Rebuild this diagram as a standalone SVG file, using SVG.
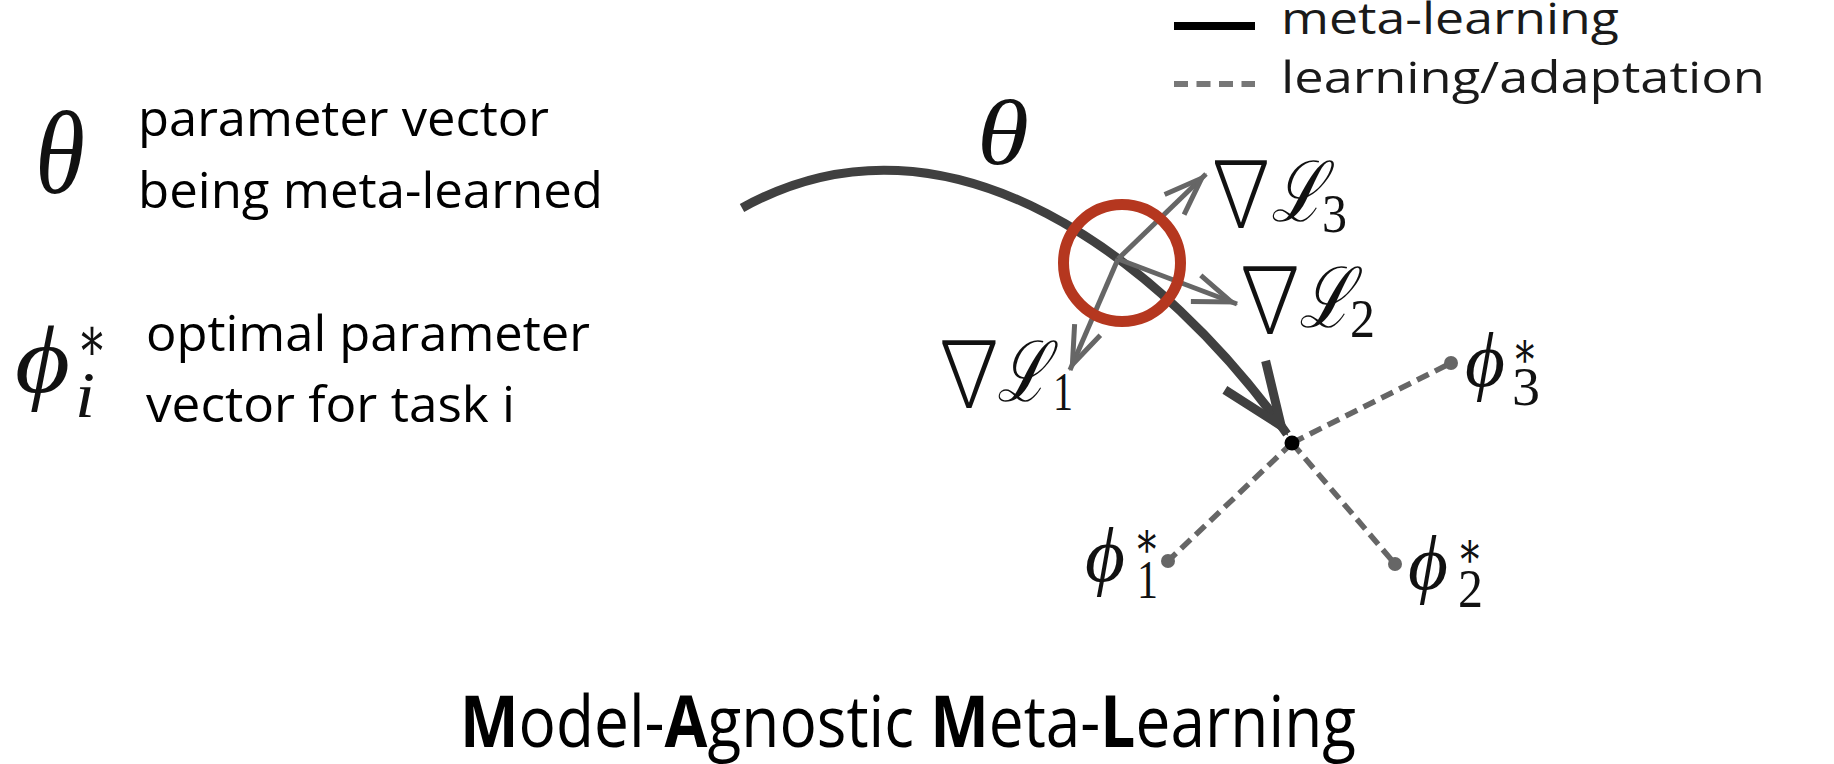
<svg xmlns="http://www.w3.org/2000/svg" width="1834" height="764" viewBox="0 0 1834 764">
  <style>
    .txt { font-family: "Open Sans", "Noto Sans", "Liberation Sans", sans-serif; fill: #000; }
    .def { font-size: 50px; }
    .leg { font-size: 44px; fill: #1a1a1a; }
    .ttl { font-size: 71px; }
    .b { font-weight: bold; }
    .math { font-family: "Liberation Serif", "DejaVu Serif", serif; fill: #111; }
    .nabla { font-family: "Noto Sans CJK JP", "DejaVu Sans", sans-serif; fill: #111; font-size: 92px; font-weight: 300; }
    .cal { font-family: "Liberation Serif", "DejaVu Serif", serif; fill: #111; font-style: italic; font-size: 84px; }
    .it { font-style: italic; }
    .meta { fill: none; stroke: #404040; stroke-width: 9; }
    .grad { fill: none; stroke: #666; stroke-width: 5; }
    .adapt { fill: none; stroke: #666; stroke-width: 5.5; stroke-dasharray: 13 7; }
  </style>
  <defs>
    <marker id="metaHead" markerUnits="userSpaceOnUse" viewBox="-80 -35 90 70" markerWidth="90" markerHeight="70" refX="0" refY="0" orient="auto">
      <path d="M -72,-25 L -10,0 L -72,25" fill="none" stroke="#404040" stroke-width="9"/>
    </marker>
    <marker id="gradHead" markerUnits="userSpaceOnUse" viewBox="-50 -20 60 40" markerWidth="60" markerHeight="40" refX="0" refY="0" orient="auto">
      <path d="M -44,-14 L -6,0 L -44,14" fill="none" stroke="#666" stroke-width="5"/>
    </marker>
  </defs>

  <rect width="1834" height="764" fill="#fff"/>

  <!-- Legend -->
  <g id="legend">
    <line x1="1174" y1="26" x2="1255" y2="26" stroke="#000" stroke-width="8"/>
    <text class="txt leg" x="1281" y="34" textLength="338" lengthAdjust="spacingAndGlyphs">meta-learning</text>
    <line x1="1174" y1="84" x2="1255" y2="84" stroke="#777" stroke-width="6" stroke-dasharray="14 8.5"/>
    <text class="txt leg" x="1281" y="93" textLength="484" lengthAdjust="spacingAndGlyphs">learning/adaptation</text>
  </g>

  <!-- Left definitions -->
  <g id="def-theta">
    <text class="math it" x="35" y="193" font-size="118" textLength="50" lengthAdjust="spacingAndGlyphs">θ</text>
    <text class="txt def" x="138" y="136" textLength="411" lengthAdjust="spacingAndGlyphs">parameter vector</text>
    <text class="txt def" x="138" y="208" textLength="465" lengthAdjust="spacingAndGlyphs">being meta-learned</text>
  </g>
  <g id="def-phi">
    <text class="math it" x="15" y="392" font-size="96" textLength="55" lengthAdjust="spacingAndGlyphs">ϕ</text>
    <text class="math" x="77" y="360" font-size="62" textLength="30" lengthAdjust="spacingAndGlyphs">∗</text>
    <text class="math it" x="75" y="417" font-size="66" textLength="20" lengthAdjust="spacingAndGlyphs">i</text>
    <text class="txt def" x="146" y="351" textLength="444" lengthAdjust="spacingAndGlyphs">optimal parameter</text>
    <text class="txt def" x="146" y="422" textLength="369" lengthAdjust="spacingAndGlyphs">vector for task i</text>
  </g>

  <!-- Connectors -->
  <g id="connectors">
    <path id="meta-path" class="meta" d="M 742,208 C 950,92 1166,264 1287,434" marker-end="url(#metaHead)"/>
    <line id="adapt-1" class="adapt" x1="1292" y1="443" x2="1168" y2="561"/>
    <line id="adapt-2" class="adapt" x1="1292" y1="443" x2="1395" y2="564"/>
    <line id="adapt-3" class="adapt" x1="1292" y1="443" x2="1451" y2="363"/>
    <line id="grad-1" class="grad" x1="1118" y1="259" x2="1070" y2="370" marker-end="url(#gradHead)"/>
    <line id="grad-2" class="grad" x1="1118" y1="259" x2="1237" y2="304" marker-end="url(#gradHead)"/>
    <line id="grad-3" class="grad" x1="1118" y1="259" x2="1206" y2="174" marker-end="url(#gradHead)"/>
  </g>

  <!-- Nodes -->
  <g id="node-theta-label">
    <text class="math it" x="977" y="164" font-size="94" textLength="52" lengthAdjust="spacingAndGlyphs">θ</text>
  </g>
  <g id="node-init">
    <circle cx="1122" cy="263" r="58.5" fill="none" stroke="#b5371f" stroke-width="11"/>
  </g>
  <g id="node-grad1-label">
    <text class="nabla" x="930" y="406" textLength="78" lengthAdjust="spacingAndGlyphs">∇</text>
    <text class="cal" x="997" y="401" textLength="52" lengthAdjust="spacingAndGlyphs">ℒ</text>
    <text class="math" x="1053" y="410" font-size="54" textLength="20" lengthAdjust="spacingAndGlyphs">1</text>
  </g>
  <g id="node-grad2-label">
    <text class="nabla" x="1231" y="332" textLength="78" lengthAdjust="spacingAndGlyphs">∇</text>
    <text class="cal" x="1299" y="327" textLength="54" lengthAdjust="spacingAndGlyphs">ℒ</text>
    <text class="math" x="1350" y="337" font-size="54" textLength="25" lengthAdjust="spacingAndGlyphs">2</text>
  </g>
  <g id="node-grad3-label">
    <text class="nabla" x="1203" y="226" textLength="76" lengthAdjust="spacingAndGlyphs">∇</text>
    <text class="cal" x="1271" y="221" textLength="54" lengthAdjust="spacingAndGlyphs">ℒ</text>
    <text class="math" x="1322" y="232" font-size="54" textLength="25" lengthAdjust="spacingAndGlyphs">3</text>
  </g>
  <g id="node-center">
    <circle cx="1292" cy="443" r="7.5" fill="#000"/>
  </g>
  <g id="node-phi1">
    <circle cx="1168" cy="561" r="7" fill="#666"/>
    <text class="math it" x="1085" y="581" font-size="76" textLength="40" lengthAdjust="spacingAndGlyphs">ϕ</text>
    <text class="math" x="1134" y="557" font-size="50" textLength="26" lengthAdjust="spacingAndGlyphs">∗</text>
    <text class="math" x="1137" y="598" font-size="54" textLength="21" lengthAdjust="spacingAndGlyphs">1</text>
  </g>
  <g id="node-phi2">
    <circle cx="1395" cy="564" r="7" fill="#666"/>
    <text class="math it" x="1408" y="589" font-size="76" textLength="40" lengthAdjust="spacingAndGlyphs">ϕ</text>
    <text class="math" x="1457" y="567" font-size="50" textLength="26" lengthAdjust="spacingAndGlyphs">∗</text>
    <text class="math" x="1458" y="607" font-size="54" textLength="25" lengthAdjust="spacingAndGlyphs">2</text>
  </g>
  <g id="node-phi3">
    <circle cx="1451" cy="363" r="7" fill="#666"/>
    <text class="math it" x="1465" y="386" font-size="76" textLength="40" lengthAdjust="spacingAndGlyphs">ϕ</text>
    <text class="math" x="1512" y="367" font-size="50" textLength="26" lengthAdjust="spacingAndGlyphs">∗</text>
    <text class="math" x="1512" y="405" font-size="54" textLength="28" lengthAdjust="spacingAndGlyphs">3</text>
  </g>

  <!-- Title -->
  <g id="title">
    <text class="txt ttl" x="460" y="747" textLength="896" lengthAdjust="spacingAndGlyphs"><tspan class="b">M</tspan>odel-<tspan class="b">A</tspan>gnostic <tspan class="b">M</tspan>eta-<tspan class="b">L</tspan>earning</text>
  </g>
</svg>
